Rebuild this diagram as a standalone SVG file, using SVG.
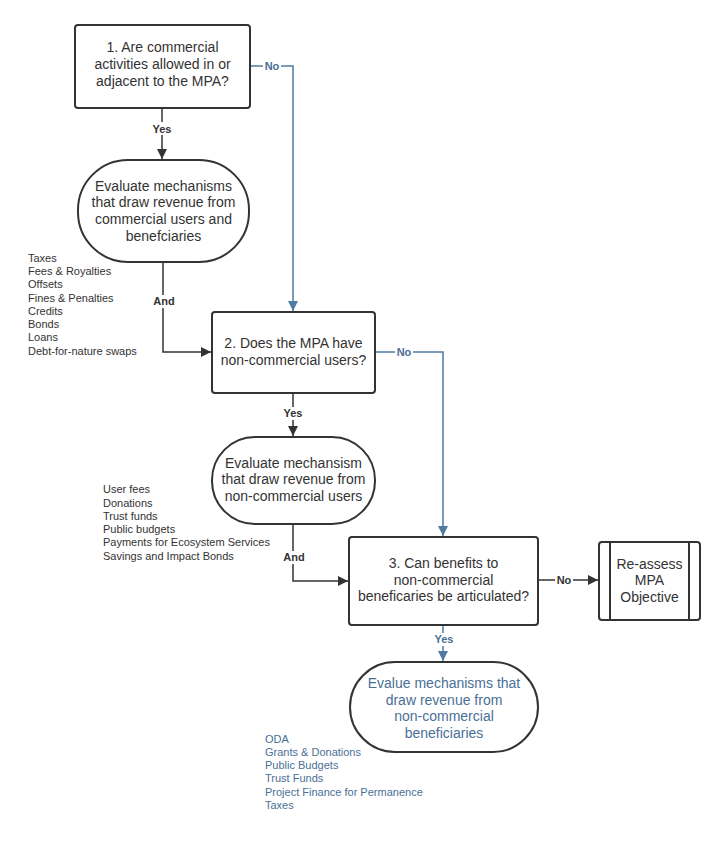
<svg xmlns="http://www.w3.org/2000/svg" width="725" height="850" viewBox="0 0 725 850">
<defs>
<marker id="ad" viewBox="0 0 10 10" refX="10" refY="5" markerWidth="10" markerHeight="10" markerUnits="userSpaceOnUse" orient="auto"><path d="M0,0 L10,5 L0,10 z" fill="#333"/></marker>
<marker id="ab" viewBox="0 0 10 10" refX="10" refY="5" markerWidth="10" markerHeight="10" markerUnits="userSpaceOnUse" orient="auto"><path d="M0,0 L10,5 L0,10 z" fill="#4f7aa3"/></marker>
</defs>
<style>
.n{fill:#fff;stroke:#333;stroke-width:2}
.t{font-family:"Liberation Sans",Arial,sans-serif;font-size:14px;fill:#333;text-anchor:middle}
.tb{font-family:"Liberation Sans",Arial,sans-serif;font-size:14px;fill:#4a6f96;text-anchor:middle}
.l{font-family:"Liberation Sans",Arial,sans-serif;font-size:11px;fill:#333}
.lb{font-family:"Liberation Sans",Arial,sans-serif;font-size:11px;fill:#4a6f96}
.cd{fill:none;stroke:#333;stroke-width:1.5}
.cb{fill:none;stroke:#4f7aa3;stroke-width:1.5}
.k{font-family:"Liberation Sans",Arial,sans-serif;font-size:11px;font-weight:bold;fill:#333;text-anchor:middle}
.kb{font-family:"Liberation Sans",Arial,sans-serif;font-size:11px;font-weight:bold;fill:#4a6f96;text-anchor:middle}
.bg{fill:#fff}
</style>
<rect width="725" height="850" fill="#fff"/>
<g id="connectors">
<path class="cd" d="M162,108 V159" marker-end="url(#ad)"/>
<rect class="bg" x="150" y="122" width="25" height="13"/>
<text class="k" x="162" y="133">Yes</text>
<path class="cb" d="M250,66 H293 V311" marker-end="url(#ab)"/>
<rect class="bg" x="263" y="60" width="18" height="12"/>
<text class="kb" x="272" y="70">No</text>
<path class="cd" d="M163,262 V352 H211" marker-end="url(#ad)"/>
<rect class="bg" x="150" y="295" width="28" height="13"/>
<text class="k" x="164" y="305">And</text>
<path class="cb" d="M375,352 H443 V536" marker-end="url(#ab)"/>
<rect class="bg" x="395" y="346" width="18" height="12"/>
<text class="kb" x="404" y="356">No</text>
<path class="cd" d="M293,393 V436" marker-end="url(#ad)"/>
<rect class="bg" x="281" y="407" width="25" height="13"/>
<text class="k" x="293" y="417">Yes</text>
<path class="cd" d="M293,524 V581 H348" marker-end="url(#ad)"/>
<rect class="bg" x="280" y="551" width="28" height="13"/>
<text class="k" x="294" y="561">And</text>
<path class="cd" d="M538,580 H598" marker-end="url(#ad)"/>
<rect class="bg" x="555" y="574" width="18" height="12"/>
<text class="k" x="564" y="584">No</text>
<path class="cb" d="M443,625 V661" marker-end="url(#ab)"/>
<rect class="bg" x="431" y="633" width="25" height="13"/>
<text class="kb" x="444" y="643">Yes</text>
</g>
<g id="q1">
<rect class="n" x="75" y="25" width="175" height="83" rx="3"/>
<text class="t" x="162.5" y="52">1. Are commercial</text>
<text class="t" x="162.5" y="69">activities allowed in or</text>
<text class="t" x="162.5" y="86">adjacent to the MPA?</text>
</g>
<g id="e1">
<rect class="n" x="78" y="160" width="171" height="102" rx="50"/>
<text class="t" x="163.5" y="191">Evaluate mechanisms</text>
<text class="t" x="163.5" y="207">that draw revenue from</text>
<text class="t" x="163.5" y="224">commercial users and</text>
<text class="t" x="163.5" y="241">benefciaries</text>
</g>
<g id="list1">
<text class="l" x="28" y="262">Taxes</text>
<text class="l" x="28" y="275">Fees &amp; Royalties</text>
<text class="l" x="28" y="288">Offsets</text>
<text class="l" x="28" y="302">Fines &amp; Penalties</text>
<text class="l" x="28" y="315">Credits</text>
<text class="l" x="28" y="328">Bonds</text>
<text class="l" x="28" y="341">Loans</text>
<text class="l" x="28" y="355">Debt-for-nature swaps</text>
</g>
<g id="q2">
<rect class="n" x="212" y="312" width="163" height="81" rx="3"/>
<text class="t" x="293.5" y="348">2. Does the MPA have</text>
<text class="t" x="293.5" y="365">non-commercial users?</text>
</g>
<g id="e2">
<rect class="n" x="212" y="437" width="163" height="87" rx="43"/>
<text class="t" x="293.5" y="468">Evaluate mechansism</text>
<text class="t" x="293.5" y="484">that draw revenue from</text>
<text class="t" x="293.5" y="501">non-commercial users</text>
</g>
<g id="list2">
<text class="l" x="103" y="493">User fees</text>
<text class="l" x="103" y="507">Donations</text>
<text class="l" x="103" y="520">Trust funds</text>
<text class="l" x="103" y="533">Public budgets</text>
<text class="l" x="103" y="546">Payments for Ecosystem Services</text>
<text class="l" x="103" y="560">Savings and Impact Bonds</text>
</g>
<g id="q3">
<rect class="n" x="349" y="537" width="189" height="88" rx="3"/>
<text class="t" x="443.5" y="568">3. Can benefits to</text>
<text class="t" x="443.5" y="585">non-commercial</text>
<text class="t" x="443.5" y="601">beneficaries be articulated?</text>
</g>
<g id="reassess">
<rect class="n" x="599" y="542" width="101" height="78" rx="3"/>
<line x1="610" y1="542" x2="610" y2="620" stroke="#333" stroke-width="2"/>
<line x1="689" y1="542" x2="689" y2="620" stroke="#333" stroke-width="2"/>
<text class="t" x="649.5" y="569">Re-assess</text>
<text class="t" x="649.5" y="585">MPA</text>
<text class="t" x="649.5" y="602">Objective</text>
</g>
<g id="e3">
<rect class="n" x="350" y="662" width="188" height="90" rx="45"/>
<text class="tb" x="444" y="688">Evalue mechanisms that</text>
<text class="tb" x="444" y="705">draw revenue from</text>
<text class="tb" x="444" y="721">non-commercial</text>
<text class="tb" x="444" y="738">beneficiaries</text>
</g>
<g id="list3">
<text class="lb" x="265" y="743">ODA</text>
<text class="lb" x="265" y="756">Grants &amp; Donations</text>
<text class="lb" x="265" y="769">Public Budgets</text>
<text class="lb" x="265" y="782">Trust Funds</text>
<text class="lb" x="265" y="796">Project Finance for Permanence</text>
<text class="lb" x="265" y="809">Taxes</text>
</g>
</svg>
